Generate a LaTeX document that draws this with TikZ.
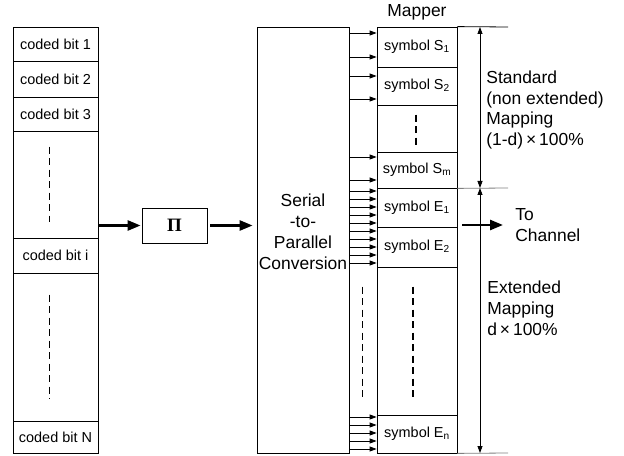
\documentclass[tikz,border=0pt]{standalone}
\usepackage{fontspec}
\setmainfont{Liberation Sans}
\newfontfamily\pifont{Liberation Serif}
\usetikzlibrary{arrows.meta}

\begin{document}
\begin{tikzpicture}[x=1bp, y=-1bp, line width=0.8bp,
    >={Triangle[length=7bp, width=5bp]},
    bitcell/.style={draw, minimum width=85bp, inner sep=0, font=\fontsize{14.5}{17}\selectfont},
    symcell/.style={draw, minimum width=80bp, inner sep=0, font=\fontsize{14.5}{17}\selectfont},
    biglabel/.style={inner sep=0, align=left, font=\fontsize{17.5}{21}\selectfont},
    dots/.style={line width=1.7bp, dash pattern=on 7bp off 4.5bp},
    bigarrow/.style={line width=2.6bp, -{Triangle[length=13bp, width=10bp]}}]

    \useasboundingbox (0, 0) rectangle (624, 456);

    % Declare the coded bits
    \node[bitcell, minimum height=34bp] at (55.5, 44) (bit1) {coded bit 1};
    \node[bitcell, minimum height=36bp] at (55.5, 79) (bit2) {coded bit 2};
    \node[bitcell, minimum height=34bp] at (55.5, 114) (bit3) {coded bit 3};
    \node[bitcell, minimum height=107bp] at (55.5, 184.5) (gap1) {};
    \node[bitcell, minimum height=35bp] at (55.5, 255.5) (biti) {coded bit i};
    \node[bitcell, minimum height=148bp] at (55.5, 347) (gap2) {};
    \node[bitcell, minimum height=32bp] at (55.5, 437) (bitN) {coded bit N};

    % Declare the interleaver and the converter
    \node[draw, minimum width=65bp, minimum height=35bp, inner sep=0] at (174.5, 225.5) (pi) {\fontsize{19}{21}\pifont\bfseries Π};
    \node[draw, minimum width=92bp, minimum height=426bp] at (303, 240) (sp) {};
    \node[biglabel, align=center] at (303, 232) (sptext) {Serial\\-to-\\Parallel\\Conversion};

    % Declare the mapper
    \node[biglabel] at (417, 12) (mapper) {Mapper};
    \node[symcell, minimum height=40bp] at (417, 47) (S1) {symbol S\textsubscript{1}};
    \node[symcell, minimum height=38bp] at (417, 86) (S2) {symbol S\textsubscript{2}};
    \node[symcell, minimum height=47bp] at (417, 128.5) (sgap) {};
    \node[symcell, minimum height=36bp] at (417, 170) (Sm) {symbol S\textsubscript{m}};
    \node[symcell, minimum height=39bp] at (417, 207.5) (E1) {symbol E\textsubscript{1}};
    \node[symcell, minimum height=40bp] at (417, 247) (E2) {symbol E\textsubscript{2}};
    \node[symcell, minimum height=148bp] at (417, 341) (egap) {};
    \node[symcell, minimum height=38bp] at (417, 434) (En) {symbol E\textsubscript{n}};

    % Declare the side labels
    \node[biglabel, anchor=west] at (486, 110) (stdlbl) {Standard\\(non extended)\\Mapping\\(1-d)\,×\,100\%};
    \node[biglabel, anchor=west] at (487, 308) (extlbl) {Extended\\Mapping\\d\,×\,100\%};
    \node[biglabel, anchor=west] at (515, 225) (chan) {To\\Channel};

    \coordinate (topR) at (508, 27);
    \coordinate (midR) at (508, 188);
    \coordinate (botR) at (508, 453);
    \coordinate (topA) at (480, 27);
    \coordinate (midA) at (480, 188);
    \coordinate (botA) at (480, 453);

    % Declare the main flow
    \draw[bigarrow, shorten >=1bp] (gap1.east |- pi.west) -- (pi.west);
    \draw[bigarrow, shorten <=3bp, shorten >=4bp] (pi.east) -- (sp.west |- pi.east);
    \draw[bigarrow, shorten <=5bp, shorten >=12bp] (E1.east |- chan.west) -- (chan.west);

    % Declare the parallel outputs
    \foreach \y in {33, 57, 76, 99, 157, 180, 191, 199, 207, 215, 223, 231, 239, 247, 255, 263, 417, 425, 433, 441, 449}
        \draw[->] (sp.east |- 0,\y) -- (S1.west |- 0,\y);

    % Declare the ranges
    \draw (S1.north east) -- (topR);
    \draw[gray] (Sm.south east) -- (midR);
    \draw[gray] (En.south east) -- (botR);
    \draw[<->] (topA) -- (midA);
    \draw[<->] (midA) -- (botA);

    % Declare the dots
    \draw[dots] ([xshift=-6bp, yshift=-16bp]gap1.north) -- ([xshift=-6bp, yshift=16bp]gap1.south);
    \draw[dots] ([xshift=-6bp, yshift=-22bp]gap2.north) -- ([xshift=-6bp, yshift=23bp]gap2.south);
    \draw[dots] ([xshift=-1bp, yshift=-10bp]sgap.north) -- ([xshift=-1bp, yshift=7bp]sgap.south);
    \draw[dots] ([xshift=-4bp, yshift=-20bp]egap.north) -- ([xshift=-4bp, yshift=15bp]egap.south);
    \draw[dots] ([xshift=-14bp, yshift=-20bp]egap.north west) -- ([xshift=-14bp, yshift=15bp]egap.south west);

\end{tikzpicture}
\end{document}
